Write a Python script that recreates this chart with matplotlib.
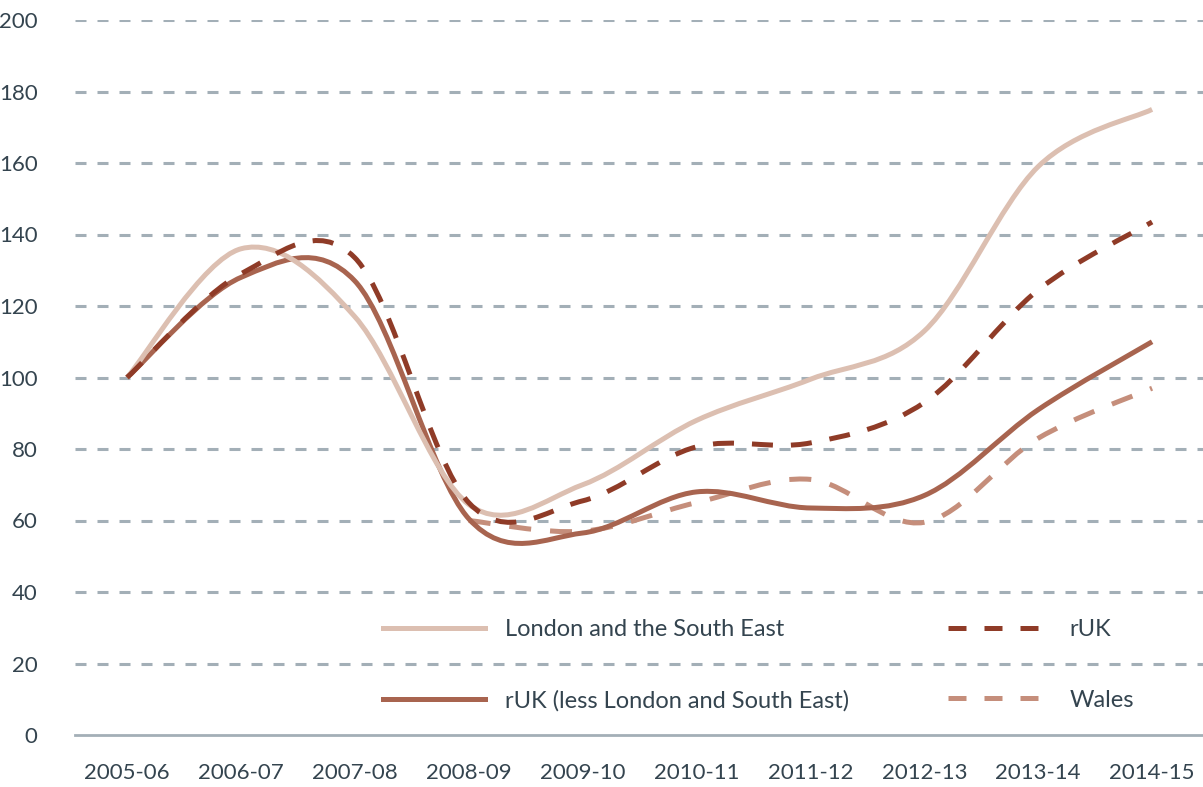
"""Smoothed index lines: London/SE, rUK, rUK less London/SE and Wales."""

import matplotlib

matplotlib.use("Agg")

import matplotlib.pyplot as plt
import numpy as np
from matplotlib.lines import Line2D
from matplotlib.patches import PathPatch
from matplotlib.path import Path

years = ["2005-06", "2006-07", "2007-08", "2008-09", "2009-10",
         "2010-11", "2011-12", "2012-13", "2013-14", "2014-15"]
london_se = [100, 136, 117, 64.5, 70, 88, 99.5, 113, 159, 175]
ruk = [100, 129, 133.5, 65, 65.5, 80.6, 81.7, 93, 124.5, 143.5]
ruk_less = [100, 128, 127, 60.5, 56.5, 68, 63.5, 67, 91, 110]
wales = [np.nan, np.nan, np.nan, 60, 57, 65, 71.5, 59.5, 83, 97]

yticks = list(range(0, 201, 20))

TEXT = "#34444f"
GRID = "#a3afb7"
C_LONDON = "#dcbfb1"
C_RUK = "#8f3b27"
C_LESS = "#a8644f"
C_WALES = "#c58e7b"


def smooth_path(values):
    """Excel-style smoothed line: Catmull-Rom segments as cubic Beziers."""
    vals = np.asarray(values, dtype=float)
    idx = np.flatnonzero(~np.isnan(vals))
    pts = np.column_stack([idx.astype(float), vals[idx]])
    n = len(pts)
    verts = [pts[0]]
    codes = [Path.MOVETO]
    for i in range(n - 1):
        p_prev = pts[max(i - 1, 0)]
        p0, p1 = pts[i], pts[i + 1]
        p_next = pts[min(i + 2, n - 1)]
        c1 = p0 + (p1 - p_prev) / 6.0
        c2 = p1 - (p_next - p0) / 6.0
        verts += [c1, c2, p1]
        codes += [Path.CURVE4] * 3
    return Path(verts, codes)


plt.rcParams["font.family"] = ["Lato", "DejaVu Sans"]

fig = plt.figure(figsize=(12.03, 7.87), dpi=100)
ax = fig.add_axes([75 / 1203, 1 - 735 / 787, 1 - 75 / 1203, (735 - 20) / 787])

ax.set_xlim(-0.457, 9.447)
ax.set_ylim(0, 200)

for y in yticks[1:]:
    ax.axhline(y, color=GRID, linewidth=2.2, dashes=(3.6, 3.6), zorder=1)
ax.axhline(0, color=GRID, linewidth=2.0, zorder=1, clip_on=False)

series = [
    (wales, C_WALES, (0, (4.4, 3.8))),
    (ruk_less, C_LESS, "solid"),
    (london_se, C_LONDON, "solid"),
    (ruk, C_RUK, (0, (4.2, 3.6))),
]
for values, color, style in series:
    patch = PathPatch(smooth_path(values), facecolor="none", edgecolor=color,
                      linewidth=3.6, linestyle=style, capstyle="butt", zorder=3)
    ax.add_patch(patch)

ax.set_xticks(range(len(years)))
ax.set_xticklabels(years)
ax.set_yticks(yticks)
ax.tick_params(axis="both", length=0, labelsize=16, colors=TEXT)
ax.tick_params(axis="x", pad=20)
ax.tick_params(axis="y", pad=27)
for side in ("top", "right", "left", "bottom"):
    ax.spines[side].set_visible(False)

handles = [
    Line2D([], [], color=C_LONDON, linewidth=3.6),
    Line2D([], [], color=C_LESS, linewidth=3.6),
    Line2D([], [], color=C_RUK, linewidth=3.6, dashes=(3.6, 3.6)),
    Line2D([], [], color=C_WALES, linewidth=3.6, dashes=(3.6, 3.6)),
]
labels = ["London and the South East", "rUK (less London and South East)",
          "rUK", "Wales"]
leg = ax.legend(handles, labels, ncol=2, frameon=False, fontsize=17,
                loc="upper left", bbox_to_anchor=(383 / 1203, 1 - 619 / 787),
                bbox_transform=fig.transFigure, borderpad=0, borderaxespad=0,
                handlelength=4.3, handletextpad=0.85, columnspacing=4.2,
                labelspacing=2.1)
for text in leg.get_texts():
    text.set_color(TEXT)

fig.savefig("out.png", dpi=100)
